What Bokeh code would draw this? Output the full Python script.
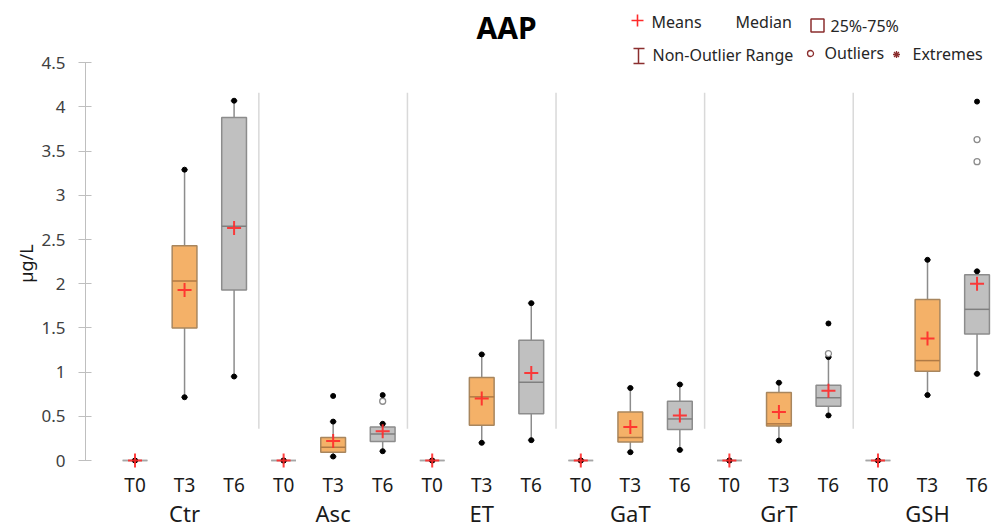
import numpy as np
from bokeh.plotting import figure
from bokeh.models import Range1d, FixedTicker, LinearAxis, Label, ColumnDataSource
from bokeh.embed import file_html
from bokeh.resources import INLINE

# ---------------- data ----------------
GROUPS = ["Ctr", "Asc", "ET", "GaT", "GrT", "GSH"]
TIMES = ["T0", "T3", "T6"]

MEANS    = [0, 1.93, 2.63, 0, 0.22, 0.33, 0, 0.70, 0.99, 0, 0.38, 0.51, 0, 0.55, 0.79, 0, 1.38, 2.00]
MEDIANS  = [0, 2.03, 2.65, 0, 0.15, 0.30, 0, 0.72, 0.885, 0, 0.26, 0.47, 0, 0.415, 0.71, 0, 1.13, 1.71]
Q1       = [0, 1.50, 1.93, 0, 0.094, 0.215, 0, 0.40, 0.53, 0, 0.21, 0.35, 0, 0.39, 0.614, 0, 1.01, 1.43]
Q3       = [0, 2.43, 3.88, 0, 0.26, 0.38, 0, 0.94, 1.36, 0, 0.55, 0.67, 0, 0.77, 0.85, 0, 1.82, 2.10]
WHISK_LO = [0, 0.716, 0.95, 0, 0.045, 0.105, 0, 0.20, 0.23, 0, 0.094, 0.12, 0, 0.226, 0.51, 0, 0.74, 0.98]
WHISK_HI = [0, 3.29, 4.07, 0, 0.44, 0.415, 0, 1.20, 1.78, 0, 0.82, 0.86, 0, 0.88, 1.17, 0, 2.27, 2.14]

OUTLIER_GROUP = ["Asc", "GrT", "GSH", "GSH"]
OUTLIER_TIME = ["T6", "T6", "T6", "T6"]
OUTLIER_VALUE = [0.67, 1.21, 3.63, 3.38]

EXTREME_GROUP = ["Asc", "Asc", "GrT", "GSH"]
EXTREME_TIME = ["T3", "T6", "T6", "T6"]
EXTREME_VALUE = [0.73, 0.74, 1.55, 4.06]

Y_TICKS = [0, 0.5, 1, 1.5, 2, 2.5, 3, 3.5, 4, 4.5]
Y_TICK_LABELS = ["0", "0.5", "1", "1.5", "2", "2.5", "3", "3.5", "4", "4.5"]

TITLE = "AAP"
Y_LABEL = "µg/L"
LEGEND_LABELS = ["Means", "Median", "25%-75%", "Non-Outlier Range", "Outliers", "Extremes"]

# ---------------- styles / layout ----------------
FONT = "Noto Sans"
FILL = {"T0": "#bfbfbf", "T3": "#f4b168", "T6": "#c0c0c0"}
EDGE = {"T0": "#a6a6a6", "T3": "#a8865e", "T6": "#8c8c8c"}
MED_COL = {"T0": "#a6a6a6", "T3": "#b07a45", "T6": "#7f7f7f"}
LEG_COL = "#8b2e2e"

CANVAS_W, CANVAS_H = 995, 526
BORDER_LEFT = 85
SLOT_PX = 49.53
UNIT_PX = 88.4
ZERO_Y = 460                 # canvas px from top to value 0
X_START = -1.0
FRAME_W = CANVAS_W - BORDER_LEFT
FRAME_H = CANVAS_H

x_range = Range1d(X_START, X_START + FRAME_W / SLOT_PX)
y_range = Range1d(-(FRAME_H - ZERO_Y) / UNIT_PX, ZERO_Y / UNIT_PX)


def fx(px):
    return X_START + (px - BORDER_LEFT) / SLOT_PX


def fy(py):
    return (ZERO_Y - py) / UNIT_PX


# ---------------- figure ----------------
p = figure(width=CANVAS_W, height=CANVAS_H, x_range=x_range, y_range=y_range,
           output_backend="svg", toolbar_location=None, x_axis_location=None,
           min_border_left=BORDER_LEFT, min_border_right=0, min_border_top=0,
           min_border_bottom=0)
p.outline_line_color = None
p.grid.visible = False
p.background_fill_color = "white"

n = len(GROUPS) * len(TIMES)
pos = np.arange(n)
times = [TIMES[i % 3] for i in range(n)]

src = ColumnDataSource(dict(
    x=pos, q1=Q1, q3=Q3, med=MEDIANS, mean=MEANS, lo=WHISK_LO, hi=WHISK_HI,
    fill=[FILL[t] for t in times], edge=[EDGE[t] for t in times],
    medc=[MED_COL[t] for t in times],
    bl=pos - 0.25, br=pos + 0.25, cl=pos - 0.07, cr=pos + 0.07,
))

# group separators
sep_x = [g * 3 - 0.5 for g in range(1, len(GROUPS))]
p.segment(x0=sep_x, x1=sep_x, y0=[0.36] * len(sep_x), y1=[4.16] * len(sep_x),
          line_color="#d9d9d9", line_width=1.5)

# whiskers
p.segment(x0="x", x1="x", y0="q3", y1="hi", source=src, line_color="#8c8c8c", line_width=1.5)
p.segment(x0="x", x1="x", y0="q1", y1="lo", source=src, line_color="#8c8c8c", line_width=1.5)
p.segment(x0="cl", x1="cr", y0="hi", y1="hi", source=src, line_color="#8c8c8c", line_width=1.5)
p.segment(x0="cl", x1="cr", y0="lo", y1="lo", source=src, line_color="#8c8c8c", line_width=1.5)

# boxes
p.vbar(x="x", width=0.5, bottom="q1", top="q3", source=src,
       fill_color="fill", line_color="edge", line_width=1.5)
p.segment(x0="bl", x1="br", y0="med", y1="med", source=src, line_color="medc", line_width=1.5)

# whisker end points
p.scatter(x="x", y="hi", source=src, marker="circle", size=5, color="black")
p.scatter(x="x", y="lo", source=src, marker="circle", size=5, color="black")

# outliers / extremes
ox = [GROUPS.index(g) * 3 + TIMES.index(t) for g, t in zip(OUTLIER_GROUP, OUTLIER_TIME)]
p.scatter(x=ox, y=OUTLIER_VALUE, marker="circle", size=6, fill_color="white",
          line_color="#8c8c8c", line_width=1.3)
ex = [GROUPS.index(g) * 3 + TIMES.index(t) for g, t in zip(EXTREME_GROUP, EXTREME_TIME)]
p.scatter(x=ex, y=EXTREME_VALUE, marker="circle", size=5, color="black")

# means
p.scatter(x="x", y="mean", source=src, marker="cross", size=14,
          line_color="#ff2a2a", line_width=2, line_alpha=0.9)

# ---------------- axes ----------------
yax = p.yaxis[0]
yax.ticker = FixedTicker(ticks=Y_TICKS, minor_ticks=[])
yax.major_label_overrides = dict(zip(Y_TICKS, Y_TICK_LABELS))
yax.bounds = (0, 4.5)
yax.axis_line_color = "#bfbfbf"
yax.major_tick_line_color = "#bfbfbf"
yax.major_tick_in = 6
yax.major_tick_out = 7
yax.minor_tick_line_color = None
yax.major_label_standoff = 13
yax.major_label_text_font = FONT
yax.major_label_text_font_size = "17px"
yax.major_label_text_color = "#404040"
yax.axis_label = Y_LABEL
yax.axis_label_text_font = FONT
yax.axis_label_text_font_size = "18px"
yax.axis_label_text_font_style = "normal"
yax.axis_label_text_color = "#1a1a1a"
yax.axis_label_standoff = 0

ax_t = LinearAxis(ticker=FixedTicker(ticks=list(range(n)), minor_ticks=[]),
                  major_label_overrides={i: times[i] for i in range(n)},
                  fixed_location=fy(471))
ax_g_ticks = [g * 3 + 1 for g in range(len(GROUPS))]
ax_g = LinearAxis(ticker=FixedTicker(ticks=ax_g_ticks, minor_ticks=[]),
                  major_label_overrides=dict(zip(ax_g_ticks, GROUPS)),
                  fixed_location=fy(497))
for ax, fs in ((ax_t, "19px"), (ax_g, "22px")):
    ax.axis_line_color = None
    ax.major_tick_line_color = None
    ax.minor_tick_line_color = None
    ax.major_tick_in = 0
    ax.major_tick_out = 0
    ax.major_label_standoff = 0
    ax.major_label_text_font = FONT
    ax.major_label_text_font_size = fs
    ax.major_label_text_color = "#1a1a1a"
p.add_layout(ax_t, "below")
p.add_layout(ax_g, "below")

# ---------------- title ----------------
p.add_layout(Label(x=fx(506), y=fy(27), text=TITLE, text_align="center",
                   text_baseline="middle", text_font=FONT, text_font_size="30px",
                   text_font_style="bold", text_color="black"))

# ---------------- legend ----------------
p.scatter(x=[fx(637)], y=[fy(20)], marker="cross", size=12, line_color="#ff2a2a", line_width=1.6)
p.scatter(x=[fx(817)], y=[fy(25)], marker="square", size=13, fill_color=None,
          line_color=LEG_COL, line_width=1.5)
ib_x = fx(638)
p.segment(x0=[ib_x], x1=[ib_x], y0=[fy(48)], y1=[fy(63)], line_color=LEG_COL, line_width=1.5)
p.segment(x0=[fx(633), fx(633)], x1=[fx(644), fx(644)], y0=[fy(48), fy(63)],
          y1=[fy(48), fy(63)], line_color=LEG_COL, line_width=1.5)
p.scatter(x=[fx(810)], y=[fy(53)], marker="circle", size=6, fill_color=None,
          line_color=LEG_COL, line_width=1.3)
p.scatter(x=[fx(896)], y=[fy(54)], marker="asterisk", size=7, line_color=LEG_COL, line_width=1.3)

leg_pos = [(651, 21), (735, 21), (830, 25), (652, 54), (824, 52), (912, 53)]
for text, (lx, ly) in zip(LEGEND_LABELS, leg_pos):
    p.add_layout(Label(x=fx(lx), y=fy(ly), text=text, text_align="left",
                       text_baseline="middle", text_font=FONT, text_font_size="16px",
                       text_color="#262626"))

open("out.html", "w").write(file_html(p, INLINE))
